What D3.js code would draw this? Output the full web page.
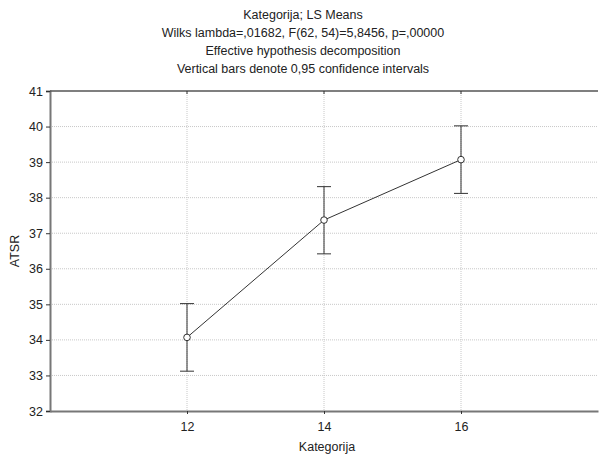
<!DOCTYPE html>
<html>
<head>
<meta charset="utf-8">
<script src="https://cdn.jsdelivr.net/npm/d3@7"></script>
<style>
  body { margin: 0; background: #fff; }
  text { font-family: "Liberation Sans", Arial, sans-serif; fill: #222; }
</style>
</head>
<body>
<script>
const categories = [12, 14, 16];
const means = [34.07, 37.37, 39.07];
const lower = [33.12, 36.42, 38.12];
const upper = [35.02, 38.31, 40.02];
const yTicks = [32, 33, 34, 35, 36, 37, 38, 39, 40, 41];
const titleLines = [
  "Kategorija; LS Means",
  "Wilks lambda=,01682, F(62, 54)=5,8456, p=,00000",
  "Effective hypothesis decomposition",
  "Vertical bars denote 0,95 confidence intervals"
];

const width = 599, height = 455;
const margin = { top: 91, right: 1, bottom: 44, left: 50 };

const svg = d3.select("body")
  .append("svg")
  .attr("width", width)
  .attr("height", height);

const x = d3.scaleLinear().domain([10, 18]).range([margin.left, width - margin.right]);
const y = d3.scaleLinear().domain([32, 41]).range([height - margin.bottom, margin.top]);

// grid
svg.append("g")
  .selectAll("line")
  .data(yTicks.slice(1, -1))
  .enter()
  .append("line")
  .attr("x1", margin.left).attr("x2", width - margin.right)
  .attr("y1", d => y(d)).attr("y2", d => y(d))
  .attr("stroke", "#c8c8c8")
  .attr("stroke-dasharray", "1,1");

svg.append("g")
  .selectAll("line")
  .data(categories)
  .enter()
  .append("line")
  .attr("x1", d => x(d)).attr("x2", d => x(d))
  .attr("y1", margin.top).attr("y2", height - margin.bottom)
  .attr("stroke", "#c8c8c8")
  .attr("stroke-dasharray", "1,1");

// axes
const yAxis = svg.append("g")
  .attr("transform", `translate(${margin.left},0)`)
  .call(d3.axisLeft(y).tickValues(yTicks).tickSize(4).tickPadding(3));
yAxis.select(".domain").attr("stroke", "#777").attr("stroke-width", 2);

const xAxis = svg.append("g")
  .attr("transform", `translate(0,${height - margin.bottom})`)
  .call(d3.axisBottom(x).tickValues(categories).tickSize(3).tickPadding(8).tickSizeOuter(0));
xAxis.select(".domain").attr("stroke", "#777").attr("stroke-width", 2);

// top frame with small ticks
svg.append("line")
  .attr("x1", margin.left).attr("x2", width - margin.right)
  .attr("y1", margin.top).attr("y2", margin.top)
  .attr("stroke", "#555").attr("stroke-width", 1.5);
svg.append("g")
  .selectAll("line")
  .data(categories)
  .enter()
  .append("line")
  .attr("x1", d => x(d)).attr("x2", d => x(d))
  .attr("y1", margin.top).attr("y2", margin.top + 3)
  .attr("stroke", "#333");

svg.selectAll(".tick text").style("font-size", "12.5px").attr("fill", "#222");
svg.selectAll(".tick line").attr("stroke", "#333");

// error bars
const eb = svg.append("g").attr("stroke", "#333").attr("stroke-width", 1);
categories.forEach((c, i) => {
  eb.append("line")
    .attr("x1", x(c)).attr("x2", x(c))
    .attr("y1", y(lower[i])).attr("y2", y(upper[i]));
  [lower[i], upper[i]].forEach(v => {
    eb.append("line")
      .attr("x1", x(c) - 7).attr("x2", x(c) + 7)
      .attr("y1", y(v)).attr("y2", y(v));
  });
});

// mean line
const line = d3.line().x((d, i) => x(categories[i])).y(d => y(d));
svg.append("path")
  .datum(means)
  .attr("d", line)
  .attr("fill", "none")
  .attr("stroke", "#333")
  .attr("stroke-width", 1);

svg.append("g")
  .selectAll("circle")
  .data(means)
  .enter()
  .append("circle")
  .attr("cx", (d, i) => x(categories[i]))
  .attr("cy", d => y(d))
  .attr("r", 3.3)
  .attr("fill", "#fff")
  .attr("stroke", "#333")
  .attr("stroke-width", 1);

// titles, centred on the whole figure
svg.append("g")
  .selectAll("text")
  .data(titleLines)
  .enter()
  .append("text")
  .attr("x", 303)
  .attr("y", (d, i) => 19 + i * 18)
  .attr("text-anchor", "middle")
  .style("font-size", "12.5px")
  .text(d => d);

svg.append("text")
  .attr("x", (margin.left + width - margin.right) / 2 + 3)
  .attr("y", 451)
  .attr("text-anchor", "middle")
  .style("font-size", "12.5px")
  .text("Kategorija");

svg.append("text")
  .attr("transform", `translate(19,${(margin.top + height - margin.bottom) / 2}) rotate(-90)`)
  .attr("text-anchor", "middle")
  .style("font-size", "12.5px")
  .text("ATSR");
</script>
</body>
</html>
